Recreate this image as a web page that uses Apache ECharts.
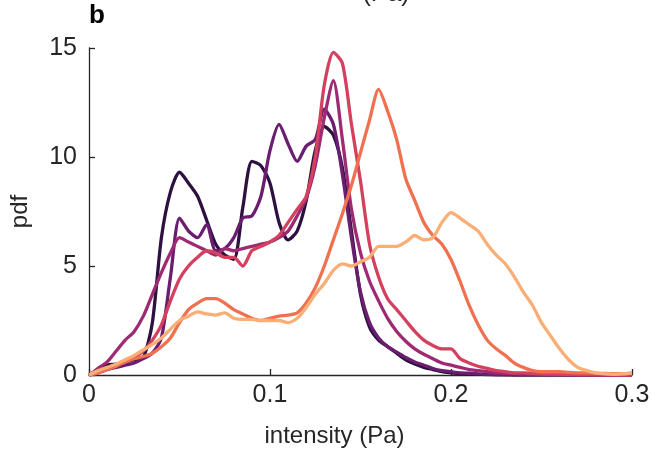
<!DOCTYPE html>
<html>
<head>
<meta charset="utf-8">
<script src="https://cdn.jsdelivr.net/npm/echarts@6/dist/echarts.min.js"></script>
<style>
  html, body { margin: 0; padding: 0; background: #fff; }
  #chart { width: 651px; height: 449px; }
</style>
</head>
<body>
<div id="chart"></div>
<script>
// Intensity grid (Pa), sampled every 0.005
const intensity = [0,0.005,0.01,0.015,0.02,0.025,0.03,0.035,0.04,0.045,0.05,0.055,0.06,0.065,0.07,0.075,0.08,0.085,0.09,0.095,0.1,0.105,0.11,0.115,0.12,0.125,0.13,0.135,0.14,0.145,0.15,0.155,0.16,0.165,0.17,0.175,0.18,0.185,0.19,0.195,0.2,0.205,0.21,0.215,0.22,0.225,0.23,0.235,0.24,0.245,0.25,0.255,0.26,0.265,0.27,0.275,0.28,0.285,0.29,0.295,0.3];

// Probability density of each curve, darkest to lightest
const pdf1 = [0,0.2,0.45,0.5,0.6,0.7,0.8,2.4,6.3,8.4,9.3,8.8,8.2,7.1,6.0,5.5,5.3,7.7,9.8,9.6,8.8,7.0,6.2,6.6,8.0,10.3,11.4,11.0,9.5,6.6,3.7,2.2,1.6,1.3,1.0,0.7,0.5,0.35,0.25,0.15,0.1,0.06,0.04,0.03,0.02,0.01,0.01,0,0,0,0,0,0,0,0,0,0,0,0,0,0];
const pdf2 = [0,0.1,0.25,0.35,0.45,0.55,0.75,1.0,1.7,4.5,7.2,6.6,6.3,6.9,5.7,5.8,6.3,7.2,7.3,8.2,10.3,11.5,10.6,9.8,10.5,10.8,12.2,11.5,9.2,6.3,3.8,2.4,1.7,1.3,1.05,0.8,0.6,0.45,0.3,0.2,0.15,0.1,0.08,0.05,0.03,0.02,0.01,0,0,0,0,0,0,0,0,0,0,0,0,0,0];
const pdf3 = [0,0.3,0.6,1.1,1.6,2.0,2.7,3.7,4.7,5.6,6.3,6.1,5.9,5.7,5.5,5.8,5.7,5.8,5.9,6.0,6.1,6.3,6.6,7.3,8.1,9.6,11.8,13.5,10.8,7.6,5.6,4.3,3.4,2.6,2.0,1.55,1.2,0.95,0.75,0.55,0.45,0.35,0.25,0.2,0.15,0.1,0.08,0.06,0.05,0.04,0.03,0.02,0.02,0.01,0.01,0,0,0,0,0,0];
const pdf4 = [0,0.15,0.3,0.45,0.6,0.8,1.1,1.6,2.3,3.4,4.4,5.0,5.4,5.7,5.6,5.4,5.4,5.0,5.7,5.9,6.1,6.4,7.0,7.6,8.2,10.0,13.3,14.8,14.3,11.5,8.9,6.0,4.5,3.5,3.0,2.5,2.0,1.6,1.35,1.2,1.2,0.75,0.55,0.4,0.3,0.2,0.15,0.1,0.1,0.07,0.05,0.04,0.03,0.03,0.02,0.02,0.01,0.01,0,0,0];
const pdf5 = [0,0.1,0.25,0.4,0.6,0.75,0.85,1.0,1.3,1.7,2.4,3.0,3.3,3.5,3.5,3.3,3.0,2.8,2.6,2.5,2.6,2.7,2.75,2.85,3.3,4.0,5.0,6.2,7.4,8.7,10.2,11.7,13.1,12.1,10.8,9.0,8.0,7.0,6.4,6.0,5.3,4.3,3.2,2.3,1.6,1.2,0.9,0.55,0.35,0.2,0.15,0.15,0.15,0.12,0.1,0.1,0.08,0.07,0.06,0.05,0.1];
const pdf6 = [0,0.2,0.35,0.5,0.7,0.9,1.15,1.4,1.7,2.1,2.5,2.7,2.9,2.8,2.75,2.85,2.6,2.55,2.55,2.5,2.5,2.5,2.4,2.6,3.1,3.7,4.2,4.8,5.1,5.0,5.2,5.4,5.9,5.9,5.9,6.1,6.4,6.2,6.3,7.0,7.45,7.2,6.9,6.6,6.0,5.5,5.1,4.5,3.8,3.2,2.4,1.8,1.2,0.7,0.35,0.2,0.1,0.05,0.03,0.05,0.1];

const curves = [pdf1, pdf2, pdf3, pdf4, pdf5, pdf6];
const colors = ['#2d1140', '#6b1d6f', '#9e2a73', '#d3415e', '#ef7150', '#f8ae74'];

const xTicks = ['0', '0.1', '0.2', '0.3'];
const yTicks = ['0', '5', '10', '15'];

const font = 'Liberation Sans, Arial, sans-serif';
const ink = '#262626';

const chart = echarts.init(document.getElementById('chart'), null, { renderer: 'canvas' });

chart.setOption({
  animation: false,
  backgroundColor: '#fff',
  grid: { left: 89, right: 19, top: 48, bottom: 74, containLabel: false, outerBoundsMode: 'none' },
  xAxis: {
    type: 'value', min: 0, max: 0.3, interval: 0.1,
    name: 'intensity (Pa)', nameLocation: 'middle', nameGap: 49,
    nameTextStyle: { fontFamily: font, fontSize: 24, color: ink, padding: [0, 52, 0, 0] },
    axisLine: { show: true, lineStyle: { color: ink, width: 1.3 } },
    axisTick: { show: true, inside: true, length: 6, lineStyle: { color: ink, width: 1.3 } },
    axisLabel: {
      fontFamily: font, fontSize: 25, color: ink, margin: 8,
      formatter: v => xTicks[Math.round(v * 10)]
    },
    splitLine: { show: false }
  },
  yAxis: {
    type: 'value', min: 0, max: 15, interval: 5,
    name: 'pdf', nameLocation: 'middle', nameGap: 57, nameRotate: 90,
    nameTextStyle: { fontFamily: font, fontSize: 24, color: ink },
    axisLine: { show: true, lineStyle: { color: ink, width: 1.3 } },
    axisTick: { show: true, inside: true, length: 6, lineStyle: { color: ink, width: 1.3 } },
    axisLabel: {
      fontFamily: font, fontSize: 25, color: ink, margin: 12,
      formatter: v => yTicks[Math.round(v / 5)]
    },
    splitLine: { show: false }
  },
  series: curves.map((c, i) => ({
    type: 'line',
    data: intensity.map((x, j) => [x, c[j]]),
    showSymbol: false,
    smooth: 0.25,
    lineStyle: { color: colors[i], width: 3.3 },
    z: 2 + i
  })),
  graphic: [
    {
      type: 'text', left: 89, top: 3,
      style: { text: 'b', font: 'bold 26px ' + font, fill: '#000' }
    },
    {
      type: 'text', x: 386, y: 7,
      style: { text: '(Pa)', font: '25px ' + font, fill: ink, textAlign: 'center', textVerticalAlign: 'bottom' }
    }
  ]
});
</script>
</body>
</html>
